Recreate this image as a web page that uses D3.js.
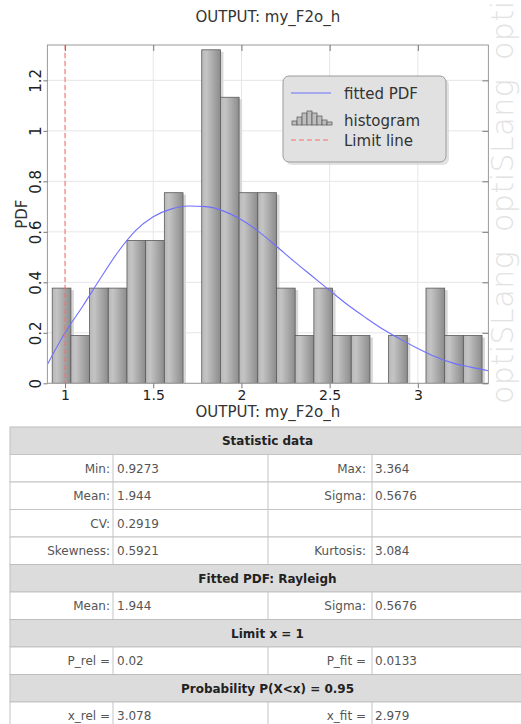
<!DOCTYPE html>
<html>
<head>
<meta charset="utf-8">
<script src="https://cdn.jsdelivr.net/npm/d3@7"></script>
<style>
  body { margin: 0; background: #fff; }
  text { font-family: "DejaVu Sans", Verdana, sans-serif; }
</style>
</head>
<body>
<div id="chart"></div>
<script>
// histogram of OUTPUT: my_F2o_h (PDF heights)
var histMin = 0.9273;
var histMax = 3.364;
var binHeights = [0.377, 0.189, 0.377, 0.377, 0.566, 0.566, 0.755, 0, 1.321, 1.133, 0.755, 0.755,
  0.377, 0.189, 0.377, 0.189, 0.189, 0, 0.189, 0, 0.377, 0.189, 0.189];

// fitted Rayleigh PDF
var pdfX = [0.9, 1.0, 1.1, 1.2, 1.3, 1.4, 1.5, 1.6, 1.7, 1.8, 1.9, 2.0, 2.1, 2.2, 2.3, 2.4, 2.5,
  2.6, 2.7, 2.8, 2.9, 3.0, 3.1, 3.2, 3.3, 3.4];
var pdfY = [0.075, 0.2, 0.305, 0.415, 0.52, 0.605, 0.66, 0.69, 0.702, 0.7, 0.682, 0.648, 0.6,
  0.542, 0.482, 0.425, 0.368, 0.312, 0.262, 0.215, 0.175, 0.138, 0.105, 0.08, 0.064, 0.05];

var limitX = 1;
var xTicks = [1, 1.5, 2, 2.5, 3];
var yTicks = [0, 0.2, 0.4, 0.6, 0.8, 1, 1.2];
var legendLabels = ["fitted PDF", "histogram", "Limit line"];

// table content
var tableRows = [
  "Statistic data",
  ["Min:", "0.9273", "Max:", "3.364"],
  ["Mean:", "1.944", "Sigma:", "0.5676"],
  ["CV:", "0.2919", "", ""],
  ["Skewness:", "0.5921", "Kurtosis:", "3.084"],
  "Fitted PDF: Rayleigh",
  ["Mean:", "1.944", "Sigma:", "0.5676"],
  "Limit x = 1",
  ["P_rel =", "0.02", "P_fit =", "0.0133"],
  "Probability P(X<x) = 0.95",
  ["x_rel =", "3.078", "x_fit =", "2.979"]
];

var svgWidth = 521;
var svgHeight = 724;

var plot = { left: 47.4, right: 488.4, top: 45, bottom: 383.3 };

var svg = d3.select("#chart")
  .append("svg")
  .attr("width", svgWidth)
  .attr("height", svgHeight);

var defs = svg.append("defs");
var grad = defs.append("linearGradient").attr("id", "barGrad")
  .attr("x1", "0%").attr("x2", "100%").attr("y1", "0%").attr("y2", "0%");
grad.append("stop").attr("offset", "0%").attr("stop-color", "#b8b8b8");
grad.append("stop").attr("offset", "25%").attr("stop-color", "#c4c4c4");
grad.append("stop").attr("offset", "100%").attr("stop-color", "#8c8c8c");

defs.append("clipPath").attr("id", "plotClip")
  .append("rect")
  .attr("x", plot.left).attr("y", plot.top)
  .attr("width", plot.right - plot.left).attr("height", plot.bottom - plot.top);

// watermark
var wm = svg.append("g").attr("class", "watermark");
[404, 232, 60].forEach(function(y0) {
  wm.append("text")
    .attr("transform", `translate(513, ${y0}) rotate(-90)`)
    .attr("font-size", 30)
    .attr("font-weight", 200)
    .attr("letter-spacing", 0.5)
    .attr("fill", "#e2e2e2")
    .text("optiSLang");
});

var xScale = d3.scaleLinear().domain([0.9, 3.4]).range([plot.left, plot.right]);
var yScale = d3.scaleLinear().domain([0, 1.34]).range([plot.bottom, plot.top]);

// grid
var grid = svg.append("g");
grid.selectAll(".gx").data(xTicks).enter().append("line")
  .attr("x1", d => xScale(d)).attr("x2", d => xScale(d))
  .attr("y1", plot.top).attr("y2", plot.bottom)
  .attr("stroke", "#e6e6e6");
grid.selectAll(".gy").data(yTicks).enter().append("line")
  .attr("x1", plot.left).attr("x2", plot.right)
  .attr("y1", d => yScale(d)).attr("y2", d => yScale(d))
  .attr("stroke", "#e6e6e6");

// histogram bars
var binW = (histMax - histMin) / binHeights.length;
var bins = binHeights.map(function(h, i) {
  return { x0: histMin + i * binW, x1: histMin + (i + 1) * binW, h: h };
});

var barGroup = svg.append("g").attr("clip-path", "url(#plotClip)");
barGroup.selectAll(".shadow").data(bins).enter().append("rect")
  .attr("x", d => xScale(d.x0) + 3)
  .attr("y", d => yScale(d.h) + 2)
  .attr("width", d => xScale(d.x1) - xScale(d.x0))
  .attr("height", d => Math.max(0, plot.bottom - yScale(d.h) - 2))
  .attr("fill", "#d8d8d8");
barGroup.selectAll(".bar").data(bins).enter().append("rect")
  .attr("x", d => xScale(d.x0))
  .attr("y", d => yScale(d.h))
  .attr("width", d => xScale(d.x1) - xScale(d.x0))
  .attr("height", d => plot.bottom - yScale(d.h))
  .attr("fill", "url(#barGrad)")
  .attr("stroke", "#5a5a5a")
  .attr("stroke-width", 0.8);

// fitted pdf
var line = d3.line()
  .x((d, i) => xScale(pdfX[i]))
  .y(d => yScale(d))
  .curve(d3.curveMonotoneX);
svg.append("path")
  .datum(pdfY)
  .attr("clip-path", "url(#plotClip)")
  .attr("d", line)
  .attr("fill", "none")
  .attr("stroke", "#6f6fff")
  .attr("stroke-width", 1.1);

// limit line
svg.append("line")
  .attr("x1", xScale(limitX)).attr("x2", xScale(limitX))
  .attr("y1", plot.top).attr("y2", plot.bottom)
  .attr("stroke", "#ff6a6a")
  .attr("stroke-width", 1)
  .attr("stroke-dasharray", "5,3");

// frame
svg.append("rect")
  .attr("x", plot.left).attr("y", plot.top)
  .attr("width", plot.right - plot.left).attr("height", plot.bottom - plot.top)
  .attr("fill", "none")
  .attr("stroke", "#9a9a9a");

// axes
var bottomAxis = d3.axisBottom(xScale).tickValues(xTicks).tickSize(5).tickFormat(d3.format("~g"));
var topAxis = d3.axisTop(xScale).tickValues(xTicks).tickSize(-6).tickFormat("");
var leftAxis = d3.axisLeft(yScale).tickValues(yTicks).tickSize(4).tickFormat(d3.format("~g"));
var rightAxis = d3.axisRight(yScale).tickValues(yTicks).tickSize(-6).tickFormat("");

var gB = svg.append("g").attr("transform", `translate(0, ${plot.bottom})`).call(bottomAxis);
var gT = svg.append("g").attr("transform", `translate(0, ${plot.top})`).call(topAxis);
var gL = svg.append("g").attr("transform", `translate(${plot.left}, 0)`).call(leftAxis);
var gR = svg.append("g").attr("transform", `translate(${plot.right}, 0)`).call(rightAxis);
[gB, gT, gL, gR].forEach(function(g) {
  g.select(".domain").remove();
  g.selectAll(".tick line").attr("stroke", "#777");
});
gB.selectAll(".tick text")
  .attr("font-family", "DejaVu Sans, sans-serif")
  .attr("font-size", 14)
  .attr("fill", "#222")
  .attr("y", 7)
  .attr("dy", "0.71em");
gL.selectAll(".tick text")
  .attr("font-family", "DejaVu Sans, sans-serif")
  .attr("font-size", 15)
  .attr("fill", "#222")
  .attr("x", 0).attr("dy", 0)
  .attr("text-anchor", "middle")
  .attr("transform", "translate(-6, 0) rotate(-90)");

// titles
svg.append("text")
  .attr("x", (plot.left + plot.right) / 2)
  .attr("y", 22)
  .attr("text-anchor", "middle")
  .attr("font-size", 15)
  .attr("fill", "#333")
  .text("OUTPUT: my_F2o_h");

svg.append("text")
  .attr("x", (plot.left + plot.right) / 2)
  .attr("y", 417)
  .attr("text-anchor", "middle")
  .attr("font-size", 15)
  .attr("fill", "#333")
  .text("OUTPUT: my_F2o_h");

svg.append("text")
  .attr("transform", `translate(27, ${(plot.top + plot.bottom) / 2}) rotate(-90)`)
  .attr("text-anchor", "middle")
  .attr("font-size", 15)
  .attr("fill", "#333")
  .text("PDF");

// legend
var legend = svg.append("g").attr("transform", "translate(283, 76)");
legend.append("rect")
  .attr("x", 3).attr("y", 3).attr("width", 163).attr("height", 86)
  .attr("rx", 6).attr("fill", "#cfcfcf").attr("opacity", 0.6);
legend.append("rect")
  .attr("width", 163).attr("height", 86)
  .attr("rx", 6).attr("fill", "#e1e1e1").attr("stroke", "#9a9a9a");

var legendY = [17, 44, 64];
legend.append("line")
  .attr("x1", 8).attr("x2", 48).attr("y1", legendY[0]).attr("y2", legendY[0])
  .attr("stroke", "#6f6fff").attr("stroke-width", 1.1);
var iconH = [4, 8, 12, 14, 12, 9, 5, 3];
legend.selectAll(".icon").data(iconH).enter().append("rect")
  .attr("x", (d, i) => 9 + i * 5)
  .attr("y", d => legendY[1] + 5 - d)
  .attr("width", 5).attr("height", d => d)
  .attr("fill", "#bdbdbd").attr("stroke", "#555").attr("stroke-width", 0.7);
legend.append("line")
  .attr("x1", 8).attr("x2", 48).attr("y1", legendY[2]).attr("y2", legendY[2])
  .attr("stroke", "#ff6a6a").attr("stroke-dasharray", "5,3");
legend.selectAll(".ltxt").data(legendLabels).enter().append("text")
  .attr("x", 61)
  .attr("y", (d, i) => legendY[i] + 6)
  .attr("font-size", 15)
  .attr("fill", "#333")
  .text(d => d);

// statistics table
var table = svg.append("g");
var tLeft = 10, tRight = 525, rowTop = 427, rowH = 27.5;
var colX = [113, 268, 372];

tableRows.forEach(function(row, i) {
  var y = rowTop + i * rowH;
  var g = table.append("g").attr("transform", `translate(0, ${y})`);
  if (typeof row === "string") {
    g.append("rect")
      .attr("x", tLeft).attr("width", tRight - tLeft).attr("height", rowH)
      .attr("fill", "#dcdcdc").attr("stroke", "#bdbdbd");
    g.append("text")
      .attr("x", (tLeft + tRight) / 2).attr("y", 18)
      .attr("text-anchor", "middle")
      .attr("font-size", 12).attr("font-weight", "bold")
      .attr("fill", "#222")
      .text(row);
  } else {
    g.append("rect")
      .attr("x", tLeft).attr("width", tRight - tLeft).attr("height", rowH)
      .attr("fill", "#fff").attr("stroke", "#c4c4c4");
    g.selectAll("line").data(colX).enter().append("line")
      .attr("x1", d => d).attr("x2", d => d)
      .attr("y1", 0).attr("y2", rowH)
      .attr("stroke", "#c4c4c4");
    var pos = [[110, "end"], [117, "start"], [366, "end"], [375, "start"]];
    row.forEach(function(t, j) {
      g.append("text")
        .attr("x", pos[j][0]).attr("y", 18)
        .attr("text-anchor", pos[j][1])
        .attr("font-size", 12)
        .attr("fill", "#555")
        .text(t);
    });
  }
});
</script>
</body>
</html>
